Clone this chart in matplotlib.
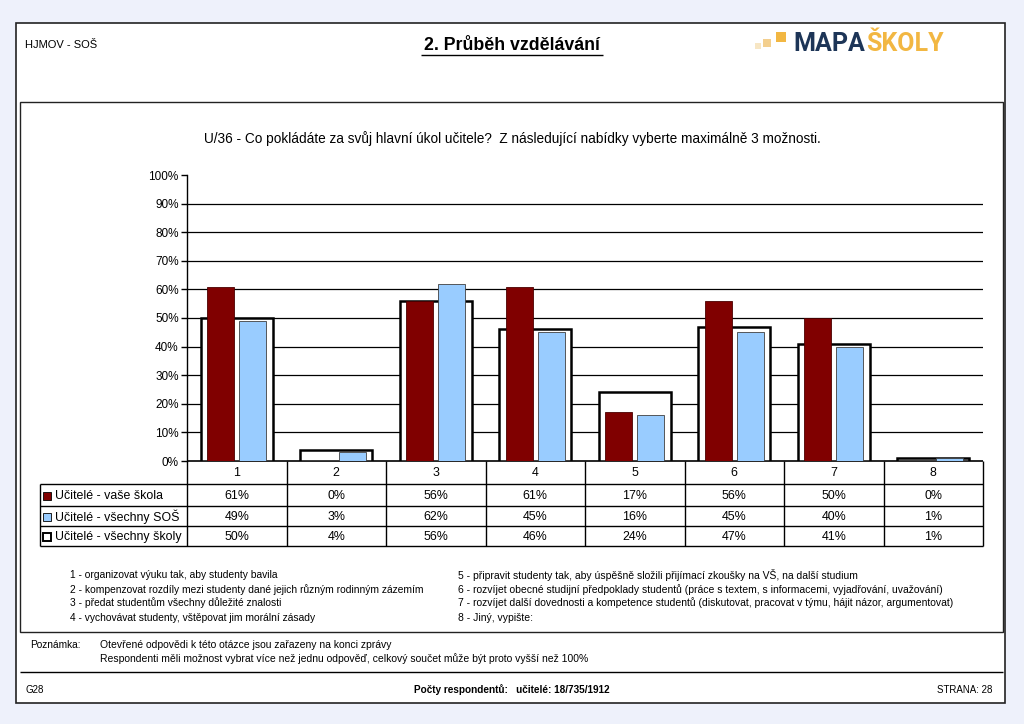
import numpy as np
import matplotlib.pyplot as plt
from matplotlib.patches import Rectangle
from matplotlib.font_manager import fontManager

# ============================================================
# DATA
# ============================================================

CATEGORIES = ["1", "2", "3", "4", "5", "6", "7", "8"]

SERIES_NAMES = [
    "Učitelé - vaše škola",
    "Učitelé - všechny SOŠ",
    "Učitelé - všechny školy",
]

VASE_SKOLA = [61, 0, 56, 61, 17, 56, 50, 0]
VSECHNY_SOS = [49, 3, 62, 45, 16, 45, 40, 1]
VSECHNY_SKOLY = [50, 4, 56, 46, 24, 47, 41, 1]

Y_TICKS = [0, 10, 20, 30, 40, 50, 60, 70, 80, 90, 100]

ANSWERS_LEFT = [
    "1 - organizovat výuku tak, aby studenty bavila",
    "2 - kompenzovat rozdíly mezi studenty dané jejich různým rodinným zázemím",
    "3 - předat studentům všechny důležité znalosti",
    "4 - vychovávat studenty, vštěpovat jim morální zásady",
]
ANSWERS_RIGHT = [
    "5 - připravit studenty tak, aby úspěšně složili přijímací zkoušky na VŠ, na další studium",
    "6 - rozvíjet obecné studijní předpoklady studentů (práce s textem, s informacemi, vyjadřování, uvažování)",
    "7 - rozvíjet další dovednosti a kompetence studentů (diskutovat, pracovat v týmu, hájit názor, argumentovat)",
    "8 - Jiný, vypište:",
]

TITLE = "U/36 - Co pokládáte za svůj hlavní úkol učitele?  Z následující nabídky vyberte maximálně 3 možnosti."
NOTES = [
    "Otevřené odpovědi k této otázce jsou zařazeny na konci zprávy",
    "Respondenti měli možnost vybrat více než jednu odpověď, celkový součet může být proto vyšší než 100%",
]

# ============================================================
# STYLE
# ============================================================

W, H = 1024, 724
names = {f.name for f in fontManager.ttflist}
FONT = "Liberation Sans" if "Liberation Sans" in names else "DejaVu Sans"
plt.rcParams["font.family"] = [FONT, "DejaVu Sans"]

RED = "#800000"
BLUE = "#99ccff"
PAGE_BG = "#eef1fb"

fig = plt.figure(figsize=(W / 100, H / 100), dpi=100)
fig.patch.set_facecolor(PAGE_BG)

# pixel-space canvas for the page layout
bg = fig.add_axes([0, 0, 1, 1])
bg.set_xlim(0, W)
bg.set_ylim(H, 0)
bg.axis("off")


def px_line(x0, y0, x1, y1, lw=1.0, color="black"):
    bg.plot([x0, x1], [y0, y1], color=color, lw=lw, solid_capstyle="butt")


# page frame
bg.add_patch(Rectangle((16, 23), 989, 680, facecolor="white", edgecolor="#222222", lw=1.2))
bg.add_patch(Rectangle((20, 102), 983, 530, facecolor="white", edgecolor="#222222", lw=1.0))

# header
bg.text(25, 45, "HJMOV - SOŠ", fontsize=8, va="center", ha="left")
bg.text(512, 46, "2. Průběh vzdělávání", fontsize=12.8, fontweight="bold",
        va="center", ha="center")
px_line(421, 55, 603, 55, lw=1.0)

# logo
for (lx, ly, s, c) in [(755, 43, 6, "#f7e6c4"), (763, 39, 8, "#f3cf8e"), (776, 32, 10, "#f2b742")]:
    bg.add_patch(Rectangle((lx, ly), s, s, facecolor=c, edgecolor="none"))
logo_a = bg.text(793, 44, "MAPA", fontsize=18, fontweight="bold", color="#1d3557",
                 va="center", ha="left", family=["Roboto", "DejaVu Sans"])
renderer = fig.canvas.get_renderer()
ext = logo_a.get_window_extent(renderer=renderer)
logo_x = bg.transData.inverted().transform((ext.x1, ext.y0))[0]
bg.text(logo_x + 1, 44, "ŠKOLY", fontsize=18, fontweight="bold", color="#f2b742",
        va="center", ha="left", family=["Roboto", "DejaVu Sans"])

# chart title
bg.text(512, 139, TITLE, fontsize=9.8, va="center", ha="center")

# ============================================================
# CHART
# ============================================================

AX_L, AX_R, AX_T, AX_B = 187, 983, 175, 461
ax = fig.add_axes([AX_L / W, 1 - AX_B / H, (AX_R - AX_L) / W, (AX_B - AX_T) / H])
ax.set_facecolor("none")

x = np.arange(len(CATEGORIES))
ax.bar(x, VSECHNY_SKOLY, width=0.72, facecolor="white", edgecolor="black",
       lw=1.8, zorder=2)
ax.bar(x - 0.16, VASE_SKOLA, width=0.27, facecolor=RED, edgecolor="#4a0000",
       lw=0.6, zorder=3)
ax.bar(x + 0.16, VSECHNY_SOS, width=0.27, facecolor=BLUE, edgecolor="#404040",
       lw=0.6, zorder=3)

ax.set_xlim(-0.5, len(CATEGORIES) - 0.5)
ax.set_ylim(0, 100)
ax.set_yticks(Y_TICKS)
ax.set_yticklabels([f"{t}%" for t in Y_TICKS], fontsize=8.5)
ax.set_xticks([])
ax.tick_params(axis="y", direction="out", length=4, width=1, pad=2)
for t in Y_TICKS[1:-1]:
    ax.axhline(t, color="black", lw=0.9, zorder=1)
for side in ["top", "right", "bottom"]:
    ax.spines[side].set_visible(False)
ax.spines["left"].set_linewidth(1.0)

# ============================================================
# DATA TABLE
# ============================================================

col_w = (AX_R - AX_L) / len(CATEGORIES)
ROW_Y = [461, 484, 506, 526, 546]
LBL_L = 40

px_line(AX_L, ROW_Y[0], AX_R, ROW_Y[0], lw=1.2)
for i in range(1, len(ROW_Y)):
    px_line(LBL_L, ROW_Y[i], AX_R, ROW_Y[i], lw=1.0)
for i in range(len(CATEGORIES) + 1):
    xx = AX_L + i * col_w
    px_line(xx, ROW_Y[0], xx, ROW_Y[-1], lw=1.0)
px_line(LBL_L, ROW_Y[1], LBL_L, ROW_Y[-1], lw=1.0)

for i, cat in enumerate(CATEGORIES):
    cx = AX_L + (i + 0.5) * col_w
    bg.text(cx, (ROW_Y[0] + ROW_Y[1]) / 2 + 1, cat, fontsize=8.9, ha="center", va="center")

series_vals = [VASE_SKOLA, VSECHNY_SOS, VSECHNY_SKOLY]
series_cols = [RED, BLUE, "white"]
for r, (name, vals, col) in enumerate(zip(SERIES_NAMES, series_vals, series_cols)):
    cy = (ROW_Y[r + 1] + ROW_Y[r + 2]) / 2 + 1
    bg.add_patch(Rectangle((43, cy - 4), 8, 8, facecolor=col, edgecolor="black",
                           lw=1.4 if col == "white" else 0.6))
    bg.text(55, cy, name, fontsize=8.9, ha="left", va="center")
    for i, v in enumerate(vals):
        cx = AX_L + (i + 0.5) * col_w
        bg.text(cx, cy, f"{v}%", fontsize=8.9, ha="center", va="center")

# ============================================================
# ANSWER KEY, NOTES, FOOTER
# ============================================================

KEY_Y = [575, 590, 603, 618]
for yy, s in zip(KEY_Y, ANSWERS_LEFT):
    bg.text(70, yy, s, fontsize=7.35, ha="left", va="center")
for yy, s in zip(KEY_Y, ANSWERS_RIGHT):
    bg.text(458, yy, s, fontsize=7.45, ha="left", va="center")

bg.text(30, 645, "Poznámka:", fontsize=7.3, ha="left", va="center")
for yy, s in zip([645, 659], NOTES):
    bg.text(100, yy, s, fontsize=7.45, ha="left", va="center")
px_line(20, 672, 1003, 672, lw=1.0)

bg.text(25, 690, "G28", fontsize=7, ha="left", va="center")
bg.text(512, 690, "Počty respondentů:   učitelé: 18/735/1912", fontsize=7.2,
        fontweight="bold", ha="center", va="center")
bg.text(992, 690, "STRANA: 28", fontsize=7, ha="right", va="center")

fig.savefig("out.png", dpi=100, facecolor=fig.get_facecolor())
